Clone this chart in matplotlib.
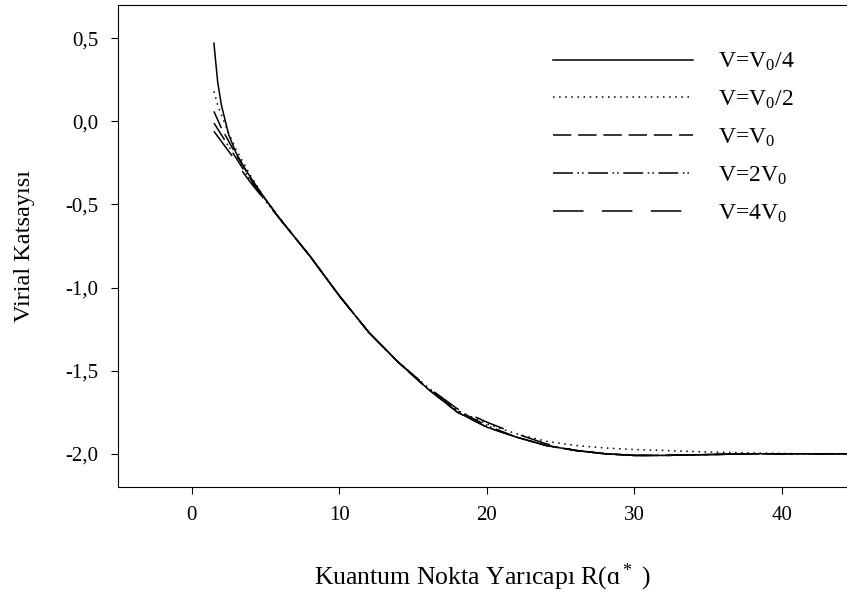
import numpy as np
import matplotlib.pyplot as plt

plt.rcParams['font.family'] = ['Liberation Serif', 'DejaVu Sans']
plt.rcParams['mathtext.fontset'] = 'custom'
plt.rcParams['mathtext.rm'] = 'Liberation Serif'
plt.rcParams['mathtext.it'] = 'Liberation Serif:italic'

# quantum dot radius R (a*)
R = [1.5, 1.75, 2, 2.5, 3, 3.5, 4, 5, 6, 7, 8, 9, 10, 12, 14, 16, 18, 20, 22,
     24, 26, 28, 30, 32, 35, 38, 41, 44.5]

# virial coefficient for each potential depth
v_quarter = [0.47, 0.24, 0.10, -0.08, -0.19, -0.27, -0.34, -0.47, -0.59, -0.70, -0.81, -0.93,
             -1.05, -1.27, -1.45, -1.61, -1.75, -1.84, -1.90, -1.95, -1.98, -2.00,
             -2.01, -2.01, -2.005, -2.0, -2.0, -2.0]
v_half = [0.18, 0.10, 0.04, -0.07, -0.17, -0.25, -0.33, -0.47, -0.59, -0.70, -0.81, -0.93,
          -1.05, -1.27, -1.45, -1.60, -1.74, -1.82, -1.88, -1.925, -1.95, -1.965,
          -1.975, -1.98, -1.99, -1.995, -2.0, -2.0]
v_one = [0.06, 0.01, -0.04, -0.12, -0.20, -0.27, -0.35, -0.47, -0.59, -0.70, -0.81, -0.93,
         -1.05, -1.27, -1.45, -1.61, -1.75, -1.84, -1.90, -1.95, -1.98, -2.00,
         -2.01, -2.01, -2.005, -2.0, -2.0, -2.0]
v_two = [-0.01, -0.045, -0.08, -0.15, -0.22, -0.29, -0.36, -0.48, -0.59, -0.70, -0.81, -0.93,
         -1.05, -1.27, -1.45, -1.61, -1.74, -1.83, -1.90, -1.95, -1.98, -2.00,
         -2.01, -2.01, -2.005, -2.0, -2.0, -2.0]
v_four = [-0.06, -0.09, -0.12, -0.18, -0.24, -0.31, -0.37, -0.48, -0.59, -0.70, -0.81, -0.93,
          -1.05, -1.27, -1.45, -1.60, -1.73, -1.81, -1.88, -1.94, -1.98, -2.00,
          -2.01, -2.01, -2.005, -2.0, -2.0, -2.0]

labels = [r'V=V$_\mathregular{0}$/4', r'V=V$_\mathregular{0}$/2', r'V=V$_\mathregular{0}$',
          r'V=2V$_\mathregular{0}$', r'V=4V$_\mathregular{0}$']
styles = ['-', (0, (1, 3)), (0, (12, 4.5)), (0, (13, 3, 1, 2, 1, 3)), (0, (20, 12))]

fig = plt.figure(figsize=(8.47, 5.93), dpi=100)
ax = fig.add_axes([118 / 847, 106 / 593, 729 / 847, 482 / 593])

for ys, ls, lab in zip([v_quarter, v_half, v_one, v_two, v_four], styles, labels):
    ax.plot(R, ys, color='black', linestyle=ls, linewidth=1.1, label=lab)

ax.set_xlim(-5, 44.4)
ax.set_ylim(-2.2, 0.7)
ax.set_xticks([0, 10, 20, 30, 40])
ax.set_yticks([0.5, 0.0, -0.5, -1.0, -1.5, -2.0])
ax.set_yticklabels(['0,5', '0,0', '-0,5', '-1,0', '-1,5', '-2,0'])
ax.spines['right'].set_visible(False)
ax.tick_params(direction='out', length=5, labelsize=15, pad=9)

ax.set_xlabel('Kuantum Nokta Yarıcapı R(ɑ$^*$ )', fontsize=18.5, labelpad=26)
ax.set_ylabel('Virial Katsayısı', fontsize=17.5, labelpad=22)

ax.legend(loc='upper left', bbox_to_anchor=(0.597, 0.905), frameon=False,
          fontsize=17, handlelength=5.9, handletextpad=1.1, labelspacing=0.66,
          borderpad=0, borderaxespad=0)

fig.savefig('out.png', dpi=100)
